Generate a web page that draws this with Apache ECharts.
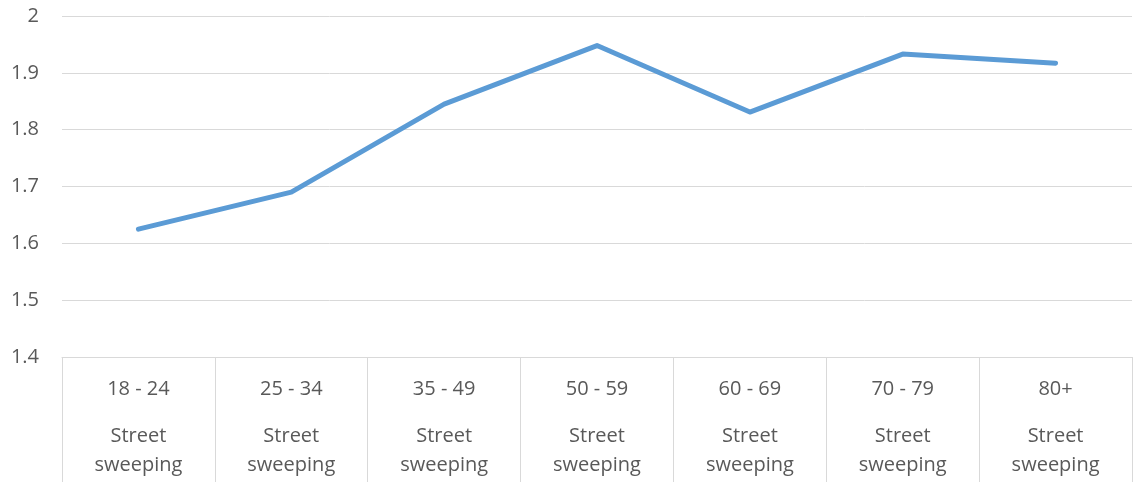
<!DOCTYPE html>
<html>
<head>
<meta charset="utf-8">
<script src="https://cdn.jsdelivr.net/npm/echarts@6/dist/echarts.min.js"></script>
<style>html,body{margin:0;padding:0;background:#fff}#c{width:1133px;height:482px}</style>
</head>
<body>
<div id="c"></div>
<script>
const ageGroups = ['18 - 24', '25 - 34', '35 - 49', '50 - 59', '60 - 69', '70 - 79', '80+'];
const serviceName = 'Street sweeping';
const values = [1.625, 1.69, 1.845, 1.948, 1.831, 1.933, 1.917];
const yTicks = [1.4, 1.5, 1.6, 1.7, 1.8, 1.9, 2];

const chart = echarts.init(document.getElementById('c'));
const font = 'Open Sans';
chart.setOption({
  animation: false,
  grid: { left: 62, right: 1, top: 16, bottom: 125, containLabel: false },
  xAxis: {
    type: 'category',
    data: ageGroups,
    boundaryGap: true,
    axisLine: { show: true, lineStyle: { color: '#d9d9d9', width: 1 } },
    axisTick: { show: true, length: 130, lineStyle: { color: '#d9d9d9', width: 1 } },
    axisLabel: {
      margin: 17,
      interval: 0,
      formatter: function (v) {
        const parts = serviceName.split(' ');
        return '{a|' + v + '}\n{s| }\n{b|' + parts[0] + '}\n{b|' + parts[1] + '}';
      },
      rich: {
        a: { fontFamily: font, fontSize: 20, color: '#595959', lineHeight: 30 },
        s: { fontSize: 10, lineHeight: 18 },
        b: { fontFamily: font, fontSize: 20, color: '#595959', lineHeight: 29 }
      }
    },
    splitLine: { show: false }
  },
  yAxis: {
    type: 'value',
    min: yTicks[0],
    max: yTicks[yTicks.length - 1],
    interval: 0.1,
    axisLine: { show: false },
    axisTick: { show: false },
    axisLabel: {
      margin: 23,
      fontFamily: font,
      fontSize: 20,
      color: '#595959',
      formatter: function (v) { return String(Math.round(v * 10) / 10); }
    },
    splitLine: { lineStyle: { color: '#d9d9d9', width: 1 } }
  },
  series: [{
    type: 'line',
    data: values,
    symbol: 'none',
    lineStyle: { color: '#5b9bd5', width: 5, cap: 'round', join: 'round' }
  }]
});
</script>
</body>
</html>
